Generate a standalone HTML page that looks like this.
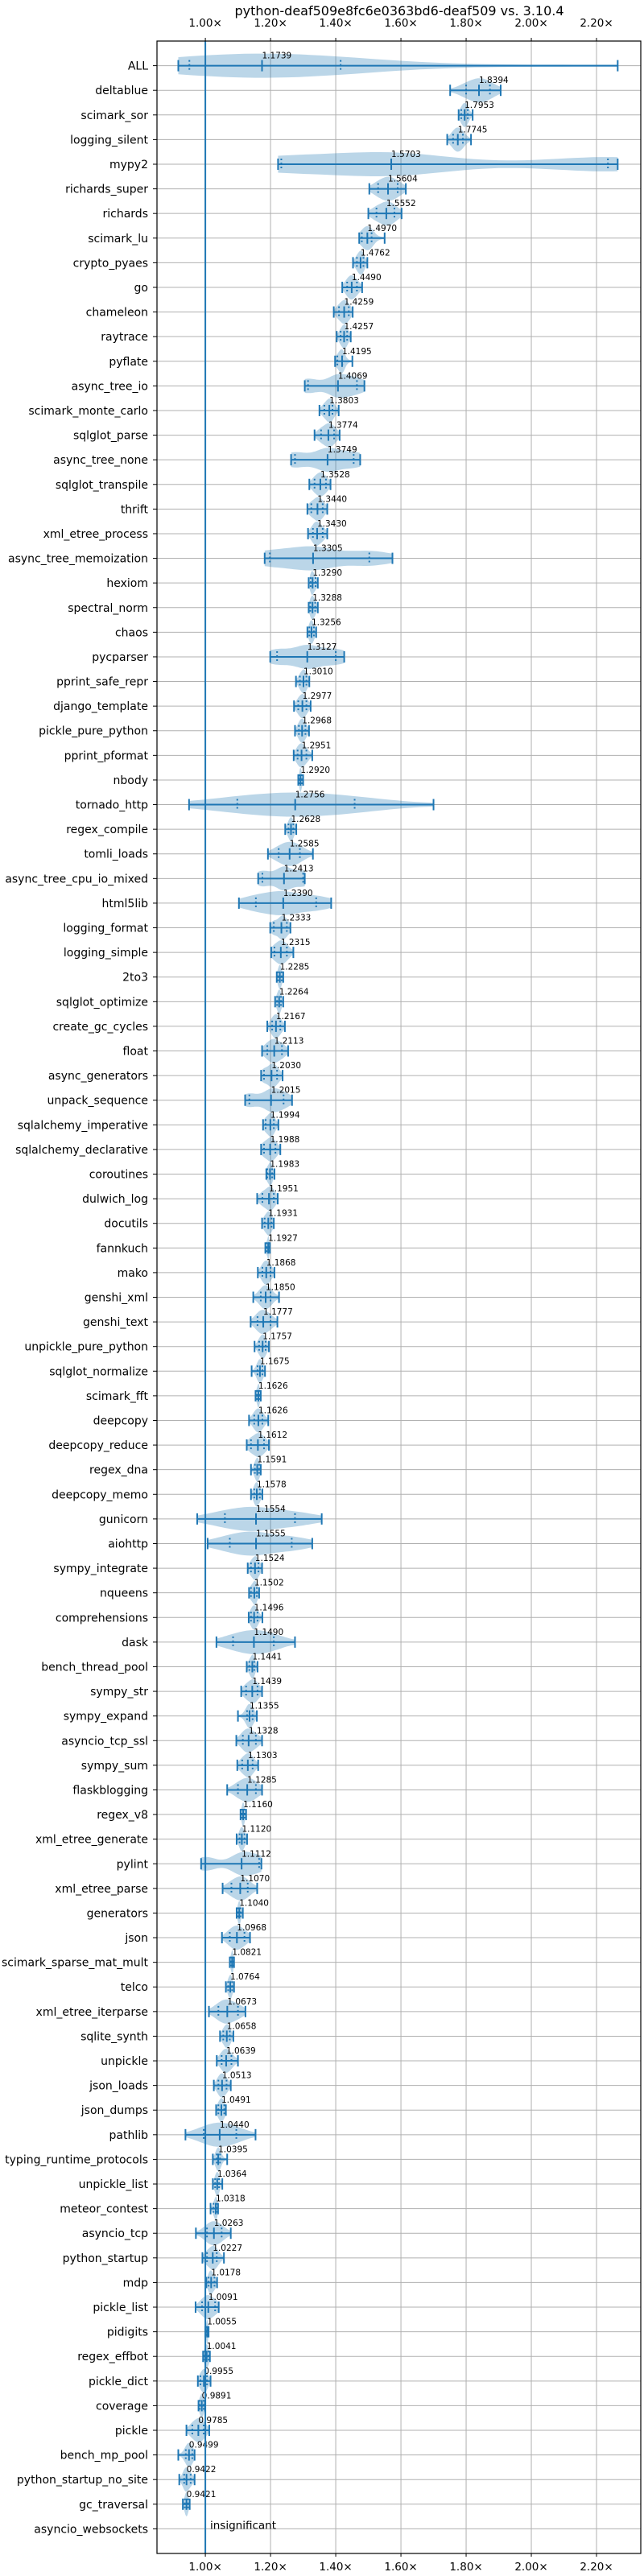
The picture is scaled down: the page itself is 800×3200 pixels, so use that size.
<!DOCTYPE html>
<html><head><meta charset="utf-8">
<style>
html,body{margin:0;padding:0;background:#fff;}
svg{display:block;font-family:"DejaVu Sans","Liberation Sans",sans-serif;}
</style></head>
<body>
<svg id="chart" width="800" height="3200" viewBox="0 0 800 3200" xmlns="http://www.w3.org/2000/svg">
<text x="496" y="19" font-size="16" text-anchor="middle" fill="#000">python-deaf509e8fc6e0363bd6-deaf509 vs. 3.10.4</text>
<g id="grid"></g><g id="marks"></g><g id="axes"></g>
</svg>
<script>
const benchmarks = ["ALL","deltablue","scimark_sor","logging_silent","mypy2","richards_super","richards","scimark_lu","crypto_pyaes","go","chameleon","raytrace","pyflate","async_tree_io","scimark_monte_carlo","sqlglot_parse","async_tree_none","sqlglot_transpile","thrift","xml_etree_process","async_tree_memoization","hexiom","spectral_norm","chaos","pycparser","pprint_safe_repr","django_template","pickle_pure_python","pprint_pformat","nbody","tornado_http","regex_compile","tomli_loads","async_tree_cpu_io_mixed","html5lib","logging_format","logging_simple","2to3","sqlglot_optimize","create_gc_cycles","float","async_generators","unpack_sequence","sqlalchemy_imperative","sqlalchemy_declarative","coroutines","dulwich_log","docutils","fannkuch","mako","genshi_xml","genshi_text","unpickle_pure_python","sqlglot_normalize","scimark_fft","deepcopy","deepcopy_reduce","regex_dna","deepcopy_memo","gunicorn","aiohttp","sympy_integrate","nqueens","comprehensions","dask","bench_thread_pool","sympy_str","sympy_expand","asyncio_tcp_ssl","sympy_sum","flaskblogging","regex_v8","xml_etree_generate","pylint","xml_etree_parse","generators","json","scimark_sparse_mat_mult","telco","xml_etree_iterparse","sqlite_synth","unpickle","json_loads","json_dumps","pathlib","typing_runtime_protocols","unpickle_list","meteor_contest","asyncio_tcp","python_startup","mdp","pickle_list","pidigits","regex_effbot","pickle_dict","coverage","pickle","bench_mp_pool","python_startup_no_site","gc_traversal","asyncio_websockets"];
const medians = [1.1739,1.8394,1.7953,1.7745,1.5703,1.5604,1.5552,1.4970,1.4762,1.4490,1.4259,1.4257,1.4195,1.4069,1.3803,1.3774,1.3749,1.3528,1.3440,1.3430,1.3305,1.3290,1.3288,1.3256,1.3127,1.3010,1.2977,1.2968,1.2951,1.2920,1.2756,1.2628,1.2585,1.2413,1.2390,1.2333,1.2315,1.2285,1.2264,1.2167,1.2113,1.2030,1.2015,1.1994,1.1988,1.1983,1.1951,1.1931,1.1927,1.1868,1.1850,1.1777,1.1757,1.1675,1.1626,1.1626,1.1612,1.1591,1.1578,1.1554,1.1555,1.1524,1.1502,1.1496,1.1490,1.1441,1.1439,1.1355,1.1328,1.1303,1.1285,1.1160,1.1120,1.1112,1.1070,1.1040,1.0968,1.0821,1.0764,1.0673,1.0658,1.0639,1.0513,1.0491,1.0440,1.0395,1.0364,1.0318,1.0263,1.0227,1.0178,1.0091,1.0055,1.0041,0.9955,0.9891,0.9785,0.9499,0.9422,0.9421,null];
const mins = [0.917,1.751,1.777,1.742,1.223,1.503,1.500,1.472,1.453,1.420,1.394,1.403,1.398,1.305,1.350,1.335,1.263,1.319,1.313,1.315,1.182,1.317,1.317,1.313,1.199,1.278,1.272,1.275,1.271,1.285,0.950,1.245,1.192,1.162,1.103,1.199,1.202,1.219,1.214,1.190,1.174,1.171,1.122,1.177,1.171,1.187,1.159,1.174,1.184,1.161,1.147,1.139,1.151,1.142,1.154,1.134,1.127,1.140,1.140,0.975,1.007,1.130,1.134,1.133,1.034,1.127,1.110,1.100,1.095,1.098,1.067,1.108,1.096,0.987,1.053,1.096,1.051,1.075,1.063,1.011,1.045,1.035,1.026,1.033,0.939,1.023,1.023,1.016,0.971,0.991,1.003,0.970,1.000,0.993,0.977,0.979,0.942,0.917,0.920,0.931,null];
const maxs = [2.265,1.906,1.820,1.815,2.265,1.615,1.602,1.550,1.497,1.481,1.452,1.446,1.451,1.488,1.409,1.412,1.475,1.384,1.374,1.374,1.574,1.345,1.345,1.340,1.426,1.319,1.323,1.318,1.328,1.300,1.700,1.279,1.330,1.305,1.386,1.261,1.270,1.239,1.239,1.244,1.254,1.237,1.266,1.224,1.230,1.212,1.222,1.210,1.198,1.212,1.226,1.221,1.195,1.183,1.170,1.193,1.195,1.170,1.175,1.357,1.328,1.174,1.165,1.175,1.275,1.160,1.174,1.158,1.174,1.162,1.174,1.125,1.128,1.172,1.159,1.115,1.137,1.088,1.088,1.123,1.086,1.100,1.078,1.063,1.154,1.067,1.052,1.039,1.078,1.057,1.036,1.041,1.010,1.014,1.016,0.999,1.012,0.967,0.967,0.952,null];
const q1s = [0.951,1.800,1.785,1.760,1.233,1.530,1.525,1.480,1.465,1.435,1.410,1.415,1.405,1.315,1.365,1.355,1.275,1.335,1.325,1.330,1.198,1.323,1.322,1.319,1.220,1.290,1.285,1.287,1.283,1.289,1.098,1.255,1.225,1.175,1.155,1.210,1.212,1.223,1.220,1.205,1.190,1.180,1.135,1.185,1.180,1.190,1.175,1.182,1.188,1.175,1.170,1.160,1.165,1.160,1.158,1.150,1.140,1.152,1.150,1.060,1.075,1.140,1.140,1.140,1.085,1.135,1.125,1.128,1.115,1.113,1.100,1.112,1.105,1.000,1.080,1.100,1.075,1.078,1.070,1.040,1.055,1.050,1.040,1.040,0.995,1.035,1.030,1.025,1.005,1.005,1.010,0.990,1.002,0.998,0.985,0.983,0.960,0.940,0.935,0.937,null];
const q3s = [1.415,1.873,1.805,1.790,2.235,1.590,1.580,1.510,1.485,1.465,1.440,1.435,1.420,1.465,1.390,1.395,1.455,1.370,1.360,1.360,1.503,1.338,1.337,1.333,1.400,1.310,1.310,1.307,1.310,1.296,1.458,1.270,1.290,1.300,1.340,1.250,1.250,1.234,1.232,1.230,1.235,1.220,1.240,1.210,1.215,1.205,1.210,1.203,1.195,1.200,1.200,1.200,1.185,1.175,1.166,1.175,1.180,1.165,1.167,1.275,1.265,1.163,1.158,1.160,1.210,1.150,1.160,1.145,1.155,1.145,1.155,1.120,1.120,1.165,1.130,1.108,1.120,1.085,1.082,1.100,1.075,1.080,1.065,1.058,1.095,1.045,1.042,1.035,1.050,1.035,1.028,1.030,1.008,1.010,1.005,0.995,0.995,0.960,0.955,0.947,null];
const xTicks = [1.0,1.2,1.4,1.6,1.8,2.0,2.2];
const xTickLabels = ["1.00×","1.20×","1.40×","1.60×","1.80×","2.00×","2.20×"];

const NS = "http://www.w3.org/2000/svg";
const L = 195, R = 796, T = 51, B = 3172;
const xMin = 0.8516, xMax = 2.3358;
const yMin = -1, yMax = 101;
function xs(v){ return L + (v - xMin) / (xMax - xMin) * (R - L); }
function ys(i){ return T + (i - yMin) / (yMax - yMin) * (B - T); }
function mk(tag, attrs, parent){ const e = document.createElementNS(NS, tag); for (const k in attrs) e.setAttribute(k, attrs[k]); parent.appendChild(e); return e; }
const grid = document.getElementById('grid'), marks = document.getElementById('marks'), axes = document.getElementById('axes');
const C = "#1f77b4";

// grid
xTicks.forEach((t, i) => {
  const g = mk('line', {x1: xs(t), x2: xs(t), y1: T, y2: B, stroke: "#b0b0b0", "stroke-width": 1}, grid);
  
  
  [[33, 'x-tick-label-top'], [3193, 'x-tick-label-bottom']].forEach(([y, nm]) => {
    const tx = mk('text', {x: xs(t), y: y, "font-size": 13.5, "text-anchor": "middle", fill: "#000"}, axes);
    
    
    tx.textContent = xTickLabels[i];
  });
  mk('line', {x1: xs(t), x2: xs(t), y1: T - 4, y2: T, stroke: "#000", "stroke-width": 1}, axes);
  mk('line', {x1: xs(t), x2: xs(t), y1: B, y2: B + 4, stroke: "#000", "stroke-width": 1}, axes);
});
benchmarks.forEach((name, i) => {
  const y = ys(i);
  const g = mk('line', {x1: L, x2: R, y1: y, y2: y, stroke: "#b0b0b0", "stroke-width": 1}, grid);
  
  
  mk('line', {x1: L - 5, x2: L, y1: y, y2: y, stroke: "#000", "stroke-width": 1}, axes);
  const lb = mk('text', {x: 184, y: y + 5, "font-size": 14, "text-anchor": "end", fill: "#000"}, axes);
  
  
  lb.textContent = name;
});

// violins
function gauss(x, m, s){ return Math.exp(-0.5 * ((x - m) / s) ** 2); }
benchmarks.forEach((name, i) => {
  const y = ys(i);
  if (medians[i] === null) return;
  const mn = mins[i], mx = maxs[i], md = medians[i], a = q1s[i], b = q3s[i];
  const s = Math.max((mx - mn) / 6, 0.002);
  const n = 40, pts = [];
  let dens = [];
  for (let k = 0; k <= n; k++) {
    const v = mn + (mx - mn) * k / n;
    dens.push([v, gauss(v, md, s) + 0.6 * gauss(v, a, s) + 0.6 * gauss(v, b, s) + 0.15]);
  }
  const maxD = Math.max(...dens.map(d => d[1]));
  const H = 15;
  dens.forEach(d => pts.push(xs(d[0]).toFixed(1) + "," + (y - d[1] / maxD * H).toFixed(1)));
  for (let k = dens.length - 1; k >= 0; k--) pts.push(xs(dens[k][0]).toFixed(1) + "," + (y + dens[k][1] / maxD * H).toFixed(1));
  const vp = mk('polygon', {points: pts.join(" "), fill: C, "fill-opacity": 0.3}, marks);
  
  
  const ln = mk('line', {x1: xs(mn), x2: xs(mx), y1: y, y2: y, stroke: C, "stroke-width": 2}, marks);
  
  
  [mn, mx, md].forEach(v => {
    const c = mk('line', {x1: xs(v), x2: xs(v), y1: y - 7, y2: y + 7, stroke: C, "stroke-width": 2}, marks);
    
    
  });
  [a, b].forEach(v => {
    const c = mk('line', {x1: xs(v), x2: xs(v), y1: y - 7, y2: y + 7, stroke: C, "stroke-width": 2, "stroke-dasharray": "2,3"}, marks);
    
    
  });
  const t = mk('text', {x: xs(md), y: y - 9, "font-size": 10.5, fill: "#000"}, marks);
  
  
  t.textContent = md.toFixed(4);
});
// insignificant row
const yi = ys(benchmarks.length - 1);
const ins = mk('text', {x: 261, y: yi, "font-size": 13.5, fill: "#000"}, marks);


ins.textContent = "insignificant";

// baseline
const bl = mk('line', {x1: xs(1), x2: xs(1), y1: T, y2: B, stroke: C, "stroke-width": 2}, marks);


// frame
const fr = mk('rect', {x: L, y: T, width: R - L, height: B - T, fill: "none", stroke: "#000", "stroke-width": 1.2}, axes);


</script>
</body></html>
